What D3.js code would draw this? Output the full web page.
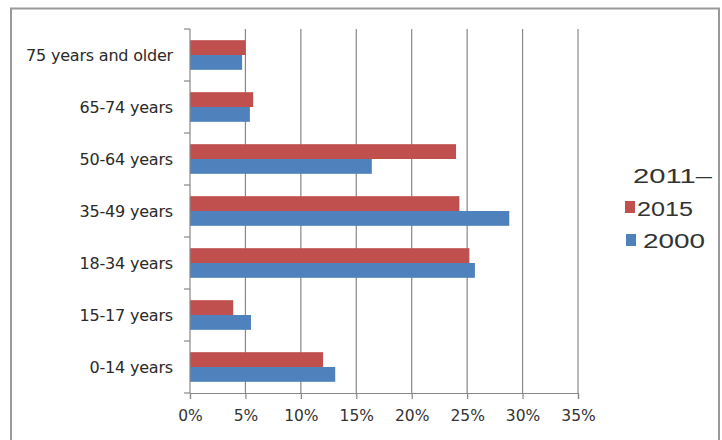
<!DOCTYPE html>
<html>
<head>
<meta charset="utf-8">
<script src="https://cdn.jsdelivr.net/npm/d3@7"></script>
<style>
  html, body { margin: 0; padding: 0; background: #fff; }
  svg { display: block; }
</style>
</head>
<body>
<svg id="chart" width="722" height="440"></svg>
<script>
// ---- data ----
const categories = ["0-14 years", "15-17 years", "18-34 years", "35-49 years", "50-64 years", "65-74 years", "75 years and older"];
const seriesNames = ["2011\u20132015", "2000"];
const values2011_2015 = [12.0, 3.9, 25.2, 24.3, 24.0, 5.7, 5.0];
const values2000 = [13.1, 5.5, 25.7, 28.8, 16.4, 5.4, 4.7];
const xTicks = [0, 5, 10, 15, 20, 25, 30, 35];
const colors = ["#C0504D", "#4F81BD"];

const svg = d3.select("#chart");

// outer chart border
svg.append("rect")
  .attr("x", 11).attr("y", 8.5).attr("width", 708).attr("height", 445)
  .attr("fill", "#fff").attr("stroke", "#9a9a9a").attr("stroke-width", 2);

const plot = { left: 190, right: 578, top: 29, bottom: 393 };

const x = d3.scaleLinear().domain([0, 35]).range([plot.left, plot.right]);
const y = d3.scaleBand()
  .domain(categories.slice().reverse())
  .range([plot.top, plot.bottom])
  .paddingInner(0.43).paddingOuter(0.215);
const sub = d3.scaleBand().domain([0, 1]).range([0, y.bandwidth()]);

// gridlines
svg.append("g").selectAll("line")
  .data(xTicks.filter(d => d > 0))
  .join("line")
  .attr("x1", d => x(d)).attr("x2", d => x(d))
  .attr("y1", plot.top).attr("y2", plot.bottom)
  .attr("stroke", "#878787").attr("stroke-width", 1.2);

// bars
const series = [values2011_2015, values2000];
series.forEach((vals, si) => {
  svg.append("g").selectAll("rect")
    .data(categories.map((c, i) => ({ c, v: vals[i] })))
    .join("rect")
    .attr("x", x(0))
    .attr("y", d => y(d.c) + sub(si))
    .attr("width", d => x(d.v) - x(0))
    .attr("height", sub.bandwidth())
    .attr("fill", colors[si]);
});

// x axis
const xAxis = d3.axisBottom(x).tickValues(xTicks).tickFormat(d => d + "%").tickSize(6).tickPadding(11);
const gx = svg.append("g").attr("transform", `translate(0,${plot.bottom})`).call(xAxis);
gx.select(".domain").attr("stroke", "#878787").attr("stroke-width", 1.2);
gx.selectAll(".tick line").attr("stroke", "#878787").attr("stroke-width", 1.2);
gx.selectAll(".tick text")
  .attr("font-family", "DejaVu Sans").attr("font-size", "15.5px").attr("fill", "#333");

// y axis (ticks on band boundaries)
svg.append("line")
  .attr("x1", plot.left).attr("x2", plot.left)
  .attr("y1", plot.top).attr("y2", plot.bottom)
  .attr("stroke", "#878787").attr("stroke-width", 1.2);
const boundaries = d3.range(categories.length + 1).map(i => plot.top + i * y.step());
svg.append("g").selectAll("line")
  .data(boundaries)
  .join("line")
  .attr("x1", plot.left - 6).attr("x2", plot.left)
  .attr("y1", d => d).attr("y2", d => d)
  .attr("stroke", "#878787").attr("stroke-width", 1.2);

svg.append("g").selectAll("text")
  .data(categories)
  .join("text")
  .attr("x", 173)
  .attr("y", d => y(d) + y.bandwidth() / 2)
  .attr("dy", "0.36em")
  .attr("text-anchor", "end")
  .attr("font-family", "DejaVu Sans")
  .attr("font-size", "16px")
  .attr("letter-spacing", "-0.2px")
  .attr("fill", "#2a2a2a")
  .text(d => d);

// legend
const lg = svg.append("g").attr("font-family", "Liberation Sans").attr("font-size", "20px").attr("fill", "#333");
const nameParts = seriesNames[0].split("\u2013");
lg.append("text").attr("x", 633).attr("y", 183)
  .attr("textLength", 79).attr("lengthAdjust", "spacingAndGlyphs")
  .text(nameParts[0] + "\u2013");
lg.append("rect").attr("x", 625).attr("y", 201).attr("width", 10).attr("height", 12).attr("fill", colors[0]);
lg.append("text").attr("x", 637).attr("y", 216)
  .attr("textLength", 56).attr("lengthAdjust", "spacingAndGlyphs")
  .text(nameParts[1]);
lg.append("rect").attr("x", 626).attr("y", 234).attr("width", 10).attr("height", 12).attr("fill", colors[1]);
lg.append("text").attr("x", 643).attr("y", 248)
  .attr("textLength", 62).attr("lengthAdjust", "spacingAndGlyphs")
  .text(seriesNames[1]);
</script>
</body>
</html>
